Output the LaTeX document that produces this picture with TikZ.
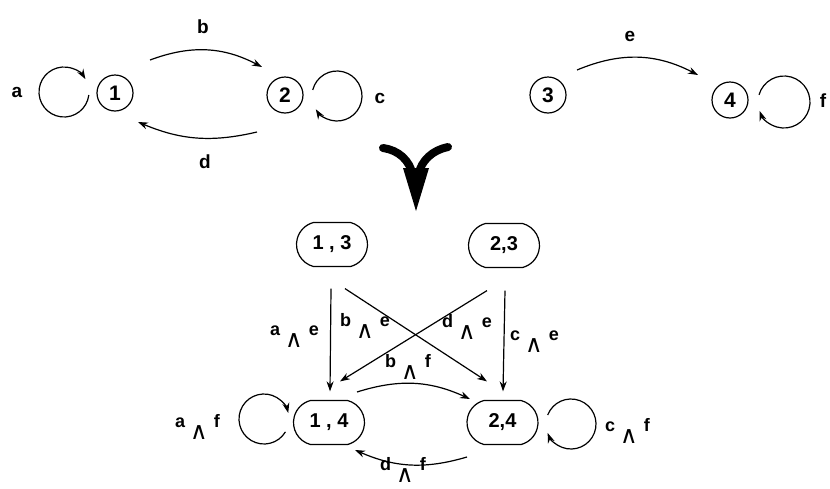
\documentclass[tikz,border=0pt]{standalone}
\usepackage{fontspec}
\setmainfont{Liberation Sans}
\newfontfamily\symf{DejaVu Sans}
\usetikzlibrary{arrows.meta,shapes.misc}
\newcommand{\andl}[2]{#1\hspace{5pt}\raisebox{-12pt}[0pt][0pt]{\fontsize{24}{24}\selectfont\symf\mdseries ∧}\hspace{6pt}#2}
\tikzset{
 st/.style={circle, draw, line width=1.2pt, minimum size=36pt, inner sep=0pt, font=\fontsize{21}{21}\selectfont\bfseries},
 pr/.style={rounded rectangle, rounded rectangle arc length=150, draw, line width=1.2pt, minimum width=71pt, minimum height=44pt, inner sep=0pt, font=\fontsize{20}{20}\selectfont\bfseries},
 lb/.style={font=\fontsize{19}{19}\selectfont\bfseries, inner sep=0pt},
 al/.style={font=\fontsize{18}{18}\selectfont\bfseries, inner sep=0pt, anchor=base west},
 ar/.style={-{Stealth[length=10pt,width=7pt]}, line width=1.2pt},
 big/.style={line width=8pt, line cap=round},
}
\begin{document}
\begin{tikzpicture}[x=1pt,y=1pt]
\useasboundingbox (0,0) rectangle (830,-488);
\fill[white] (0,0) rectangle (830,-488);
\clip (0,0) rectangle (830,-488);
% top graphs
\node[st] (n1) at (115,-93) {1};
\node[st] (n2) at (285,-95) {2};
\node[st] (n3) at (548,-95) {3};
\node[st] (n4) at (730,-100) {4};
\node[lb] (la) at (17,-92) {a};
\node[lb] (lb) at (203,-27) {b};
\node[lb] (lc) at (380,-98) {c};
\node[lb] (ld) at (205,-162) {d};
\node[lb] (le) at (630,-36) {e};
\node[lb] (lf) at (823,-101) {f};
\draw[ar] ([shift={(35,33)}]n1.center) to[bend left=24] ([shift={(-23,28)}]n2.center);
\draw[ar] ([shift={(-28,-37)}]n2.center) to[bend left=18] ([shift={(23,-29)}]n1.center);
\draw[ar] ([shift={(29,25)}]n3.center) to[bend left=25] ([shift={(-32,25)}]n4.center);
\draw[ar] ([shift={(-51,1)}]n1.center) ++(-7:25) arc[start angle=-7,end angle=-329,radius=25];
\draw[ar] ([shift={(52,-1)}]n2.center) ++(166:25) arc[start angle=166,end angle=-148,radius=25];
\draw[ar] ([shift={(54,-2)}]n4.center) ++(164:26) arc[start angle=164,end angle=-160,radius=26];
% big arrow
\draw[big] (383,-148) .. controls (398,-150) and (410,-160) .. (413,-176);
\draw[big] (448,-147) .. controls (433,-150) and (421,-160) .. (418,-176);
\fill (403,-168) -- (429,-168) -- (416,-211) -- cycle;
% product graph
\node[pr] (n13) at (332,-244.5) {1 , 3};
\node[pr] (n23) at (504,-245.5) {2,3};
\node[pr] (n14) at (329,-422.5) {1 , 4};
\node[pr] (n24) at (502.5,-422.5) {2,4};
\draw[ar] ([shift={(-1,-21.5)}]n13.south) -- ([shift={(1,8.5)}]n14.north);
\draw[ar] ([shift={(13,-21.5)}]n13.south) -- ([shift={(-15.5,18.5)}]n24.north);
\draw[ar] ([shift={(-17,-22.5)}]n23.south) -- ([shift={(11,18.5)}]n14.north);
\draw[ar] ([shift={(1,-22.5)}]n23.south) -- ([shift={(0.5,8.5)}]n24.north);
\draw[ar] ([shift={(28,30.5)}]n14.center) to[bend left=21] ([shift={(-32.5,23.5)}]n24.center);
\draw[ar] ([shift={(-35.5,-34.5)}]n24.center) to[bend left=20] ([shift={(26,-27.5)}]n14.center);
\draw[ar] ([shift={(-65,3.5)}]n14.center) ++(-31:25) arc[start angle=-31,end angle=-346,radius=25];
\draw[ar] ([shift={(68.5,-1.5)}]n24.center) ++(159:25) arc[start angle=159,end angle=-159,radius=25];
\node[al] (lae) at (270,-335) {\andl{a}{e}};
\node[al] (lbe) at (340,-326) {\andl{b}{e}};
\node[al] (lde) at (442,-327) {\andl{d}{e}};
\node[al] (lce) at (510,-340) {\andl{c}{e}};
\node[al] (lbf) at (385,-367) {\andl{b}{f}};
\node[al] (laf) at (175,-427) {\andl{a}{f}};
\node[al] (ldf) at (380,-470) {\andl{d}{f}};
\node[al] (lcf) at (605,-431) {\andl{c}{f}};
\end{tikzpicture}
\end{document}
